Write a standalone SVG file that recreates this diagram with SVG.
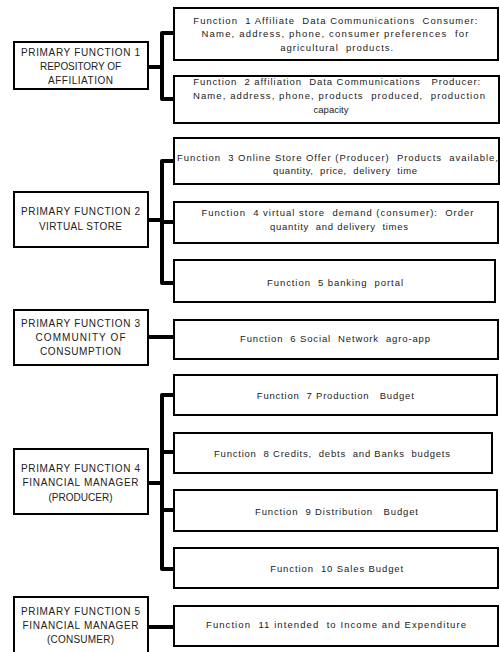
<svg xmlns="http://www.w3.org/2000/svg" width="500" height="652" viewBox="0 0 500 652">
  <style>
    .box { fill: #ffffff; stroke: #000000; stroke-width: 2; }
    .link { fill: none; stroke: #000000; stroke-width: 4; stroke-linejoin: round; }
    text { font-family: "Liberation Sans", Arial, sans-serif; font-size: 9.5px; fill: #222222; text-anchor: middle; white-space: pre; }
    .pri { font-size: 10px; }
  </style>
  <rect width="500" height="652" fill="#ffffff"/>

  <!-- connectors -->
  <g id="connectors">
    <path class="link" d="M148,67 H162 M174,33 H162 V99 H174"/>
    <path class="link" d="M148,220 H162 M174,161 H162 V283 H174 M162,222 H174"/>
    <path class="link" d="M148,337 H174"/>
    <path class="link" d="M148,483 H162 M174,395 H162 V569 H174 M162,452 H174 M162,510 H174"/>
    <path class="link" d="M148,627 H174"/>
  </g>

  <!-- primary functions -->
  <g id="primary1">
    <rect class="box" x="14" y="42" width="134" height="47"/>
    <text class="pri" x="80.5" y="56" textLength="119" lengthAdjust="spacing">PRIMARY FUNCTION 1</text>
    <text class="pri" x="80.5" y="70" textLength="81" lengthAdjust="spacing">REPOSITORY OF</text>
    <text class="pri" x="80.5" y="84" textLength="65" lengthAdjust="spacing">AFFILIATION</text>
  </g>
  <g id="primary2">
    <rect class="box" x="14" y="192" width="134" height="55"/>
    <text class="pri" x="80.5" y="215" textLength="119" lengthAdjust="spacing">PRIMARY FUNCTION 2</text>
    <text class="pri" x="80.5" y="230" textLength="83" lengthAdjust="spacing">VIRTUAL STORE</text>
  </g>
  <g id="primary3">
    <rect class="box" x="14" y="310" width="134" height="55"/>
    <text class="pri" x="80.5" y="327" textLength="119" lengthAdjust="spacing">PRIMARY FUNCTION 3</text>
    <text class="pri" x="80.5" y="341" textLength="90" lengthAdjust="spacing">COMMUNITY OF</text>
    <text class="pri" x="80.5" y="355" textLength="81" lengthAdjust="spacing">CONSUMPTION</text>
  </g>
  <g id="primary4">
    <rect class="box" x="14" y="449" width="134" height="65"/>
    <text class="pri" x="80.5" y="472" textLength="119" lengthAdjust="spacing">PRIMARY FUNCTION 4</text>
    <text class="pri" x="80.5" y="486" textLength="116" lengthAdjust="spacing">FINANCIAL MANAGER</text>
    <text class="pri" x="80.5" y="501" textLength="64" lengthAdjust="spacing">(PRODUCER)</text>
  </g>
  <g id="primary5">
    <rect class="box" x="14" y="597" width="134" height="64"/>
    <text class="pri" x="80.5" y="615" textLength="119" lengthAdjust="spacing">PRIMARY FUNCTION 5</text>
    <text class="pri" x="80.5" y="629" textLength="116" lengthAdjust="spacing">FINANCIAL MANAGER</text>
    <text class="pri" x="80.5" y="643" textLength="67" lengthAdjust="spacing">(CONSUMER)</text>
  </g>

  <!-- functions -->
  <g id="function1">
    <rect class="box" x="174" y="8" width="324" height="52"/>
    <text x="335.3" y="24" textLength="284" lengthAdjust="spacing">Function  1 Affiliate  Data Communications  Consumer:</text>
    <text x="335" y="37" textLength="267" lengthAdjust="spacing">Name, address, phone, consumer preferences  for</text>
    <text x="336.7" y="51" textLength="113" lengthAdjust="spacing">agricultural  products.</text>
  </g>
  <g id="function2">
    <rect class="box" x="174" y="76" width="325" height="47"/>
    <text x="336.7" y="85" textLength="287" lengthAdjust="spacing">Function  2 affiliation  Data Communications   Producer:</text>
    <text x="339" y="99" textLength="292" lengthAdjust="spacing">Name, address, phone, products  produced,  production</text>
    <text x="331" y="113">capacity</text>
  </g>
  <g id="function3">
    <rect class="box" x="174" y="138" width="325" height="46"/>
    <text x="337.5" y="161" textLength="321" lengthAdjust="spacing">Function  3 Online Store Offer (Producer)  Products  available,</text>
    <text x="345" y="174" textLength="144" lengthAdjust="spacing">quantity,  price,  delivery  time</text>
  </g>
  <g id="function4">
    <rect class="box" x="174" y="202" width="324" height="41"/>
    <text x="337.5" y="216" textLength="272" lengthAdjust="spacing">Function  4 virtual store  demand (consumer):  Order</text>
    <text x="339" y="230" textLength="138" lengthAdjust="spacing">quantity  and delivery  times</text>
  </g>
  <g id="function5">
    <rect class="box" x="174" y="260" width="321" height="42"/>
    <text x="335" y="285.5" textLength="136" lengthAdjust="spacing">Function  5 banking  portal</text>
  </g>
  <g id="function6">
    <rect class="box" x="174" y="320" width="324" height="39"/>
    <text x="335" y="341.5" textLength="190" lengthAdjust="spacing">Function  6 Social  Network  agro-app</text>
  </g>
  <g id="function7">
    <rect class="box" x="174" y="375" width="323" height="40"/>
    <text x="335.3" y="399" textLength="157" lengthAdjust="spacing">Function  7 Production   Budget</text>
  </g>
  <g id="function8">
    <rect class="box" x="174" y="433" width="318" height="40"/>
    <text x="332" y="457" textLength="236" lengthAdjust="spacing">Function  8 Credits,  debts  and Banks  budgets</text>
  </g>
  <g id="function9">
    <rect class="box" x="174" y="490" width="323" height="41"/>
    <text x="336.5" y="515" textLength="163" lengthAdjust="spacing">Function  9 Distribution   Budget</text>
  </g>
  <g id="function10">
    <rect class="box" x="174" y="548" width="324" height="40"/>
    <text x="336.7" y="571.5" textLength="133" lengthAdjust="spacing">Function  10 Sales Budget</text>
  </g>
  <g id="function11">
    <rect class="box" x="174" y="606" width="324" height="40"/>
    <text x="336" y="628" textLength="260" lengthAdjust="spacing">Function  11 intended  to Income and Expenditure</text>
  </g>
</svg>
